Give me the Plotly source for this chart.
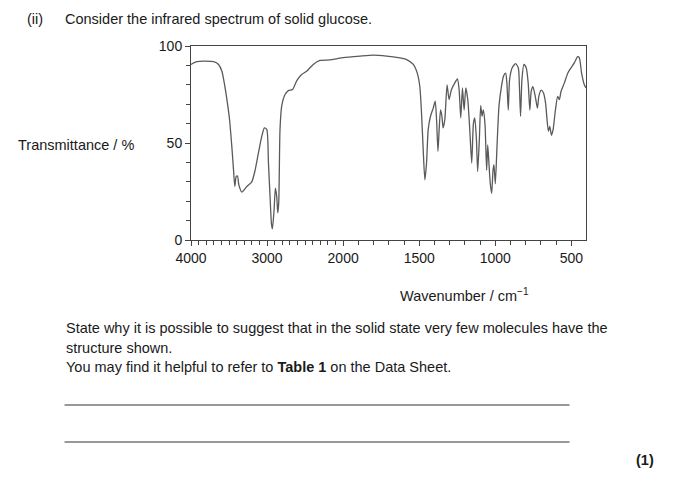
import plotly.graph_objects as go

# Wavenumber (cm-1) and transmittance (%)
wavenumber = [4000, 3921, 3834, 3703, 3638, 3594, 3563, 3528, 3493, 3463, 3441, 3424, 3406, 3389, 3371,
              3332, 3266, 3201, 3157, 3113, 3070, 3035, 3004, 2982, 2961, 2943, 2930, 2908, 2891, 2873,
              2860, 2847, 2830, 2808, 2764, 2720, 2664, 2611, 2546, 2480, 2393, 2306, 2175, 2087, 2000,
              1889, 1801, 1714, 1638, 1583, 1539, 1513, 1496, 1485, 1474, 1463, 1452, 1441, 1426, 1408,
              1395, 1386, 1377, 1369, 1360, 1351, 1343, 1332, 1317, 1304, 1288, 1266, 1249, 1238, 1227,
              1216, 1205, 1194, 1181, 1168, 1155, 1144, 1135, 1124, 1116, 1105, 1096, 1087, 1079, 1068,
              1057, 1050, 1042, 1033, 1024, 1015, 1009, 1000, 989, 976, 961, 946, 932, 924, 915,
              906, 889, 867, 849, 841, 834, 825, 812, 797, 784, 773, 764, 753, 740, 732,
              723, 714, 699, 684, 670, 660, 651, 642, 631, 620, 605, 590, 579, 568, 546,
              524, 502, 480, 459, 448, 433, 415, 404]
transmittance = [90.5, 91.9, 92.2, 91.9, 90.5, 87, 81, 72.4, 62, 48, 36, 27.6, 32.8, 33, 28.4,
                 24.7, 27.6, 30, 36, 45, 53.4, 57.8, 57, 39.7, 22.4, 8.6, 5.7, 15.5, 26.7, 22.4,
                 14, 19, 57, 69, 75, 77, 77.6, 82, 85.3, 87, 90.5, 92.6, 92.8, 93.4, 94,
                 94.8, 95.3, 94.8, 94, 93, 90.5, 86, 79, 65.5, 46.6, 31, 39.7, 57, 63.8, 68,
                 71.6, 62, 45.7, 57, 67, 63.8, 57.8, 62, 80, 72.4, 77.6, 81, 83, 77.6, 63,
                 78.4, 67, 78.4, 72.4, 57, 39.7, 60, 63, 51.7, 35.3, 51.7, 69.3, 63.8, 67, 60,
                 36, 49, 39.7, 29, 24, 36, 38.8, 29, 48, 69, 78.4, 84.5, 86, 81, 67,
                 82.8, 88.8, 90.9, 88.8, 77.6, 63.8, 82.8, 90.5, 88.8, 81, 67, 76.7, 79, 75, 71.6,
                 68, 74, 77.2, 75.9, 70.7, 62, 56, 58.6, 54, 57, 67, 74, 72.4, 76.7, 81,
                 86, 88.8, 91.4, 94.5, 94, 86, 80, 78.4]

major_ticks = [4000, 3000, 2000, 1500, 1000, 500]
minor_ticks = list(range(3900, 2000, -100)) + list(range(1900, 400, -100))
y_major = [0, 50, 100]
y_minor = [10, 20, 30, 40, 60, 70, 80, 90]


# IR spectra use a scale change at 2000 cm-1 (half the spacing above 2000)
def axis_pos(w):
    return (4000 - w) / 1000 if w >= 2000 else 2 + (2000 - w) / 500


OFF = 8  # page body margin
W, H = 673 - OFF, 480 - OFF
L, R, T, B = 190.7 - OFF, 586.5 - OFF, 46 - OFF, 240 - OFF


def px(x):
    return (x - OFF - L) / (R - L)


def py(y):
    return (B - (y - OFF)) / (B - T)


FONT = "Liberation Sans, Arial, sans-serif"
INK = "#1a1a1a"
FS = 14.5

fig = go.Figure()
fig.add_trace(go.Scatter(
    x=[axis_pos(w) for w in wavenumber], y=transmittance,
    mode="lines", line=dict(color="#5a5a5a", width=1.3, shape="spline", smoothing=0.6),
    hoverinfo="skip", showlegend=False))

fig.update_xaxes(
    range=[0, axis_pos(404)], showgrid=False, zeroline=False,
    showline=True, linecolor="#444", linewidth=1, mirror=True,
    tickmode="array", tickvals=[axis_pos(w) for w in major_ticks],
    ticktext=[str(w) for w in major_ticks],
    ticks="outside", ticklen=5, tickcolor="#444",
    tickfont=dict(family=FONT, size=14, color=INK),
    minor=dict(tickmode="array", tickvals=[axis_pos(w) for w in minor_ticks],
               ticks="outside", ticklen=4, tickcolor="#444", showgrid=False))
fig.update_yaxes(
    range=[0, 100], showgrid=False, zeroline=False,
    showline=True, linecolor="#444", linewidth=1, mirror=True,
    tickmode="array", tickvals=y_major, ticktext=[str(v) for v in y_major],
    ticks="outside", ticklen=5, tickcolor="#444",
    tickfont=dict(family=FONT, size=14, color=INK),
    minor=dict(tickmode="array", tickvals=y_minor, ticks="outside", ticklen=4,
               tickcolor="#444", showgrid=False))


def text(x, y, s, size=FS, anchor="left"):
    fig.add_annotation(xref="paper", yref="paper", x=px(x), y=py(y), text=s,
                       showarrow=False, xanchor=anchor, yanchor="middle",
                       font=dict(family=FONT, size=size, color=INK))


text(24, 19, "(ii)")
text(62, 19, "Consider the infrared spectrum of solid glucose.")
text(15, 145, "Transmittance / %")
text(465, 295, "Wavenumber / cm<sup>−1</sup>", anchor="center")
text(63, 328, "State why it is possible to suggest that in the solid state very few molecules have the")
text(63, 348, "structure shown.")
text(63, 367, "You may find it helpful to refer to <b>Table 1</b> on the Data Sheet.")
text(657, 460, "<b>(1)</b>", anchor="right")

for yline in [405, 442]:
    fig.add_shape(type="line", xref="paper", yref="paper",
                  x0=px(64), x1=px(570), y0=py(yline), y1=py(yline),
                  line=dict(color="#333", width=1))

fig.update_layout(
    width=W, height=H,
    margin=dict(l=L, r=W - R, t=T, b=H - B),
    paper_bgcolor="white", plot_bgcolor="white",
    showlegend=False)

fig.write_html("out.html")
